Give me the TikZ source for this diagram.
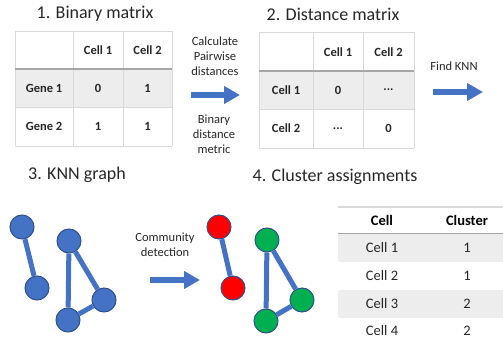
\documentclass[tikz,border=0pt]{standalone}
\usepackage{fontspec}
\setmainfont{Carlito}
\usetikzlibrary{arrows.meta}
\definecolor{bl}{HTML}{4472C4}
\definecolor{bldk}{HTML}{2F528F}
\definecolor{gr}{HTML}{00B050}
\definecolor{rowgray}{HTML}{EDEDED}
\definecolor{gridgray}{HTML}{D9D9D9}
\definecolor{hline}{HTML}{A6A6A6}
\tikzset{
  title/.style={font=\fontsize{18}{22}\selectfont, text=black!85},
  lbl/.style={font=\fontsize{12.5}{15}\selectfont, align=center, text=black!85},
  tb/.style={font=\fontsize{12.5}{14}\selectfont\bfseries, text=black!85},
  tc/.style={font=\fontsize{14.5}{17}\selectfont, text=black!85},
  tcb/.style={font=\fontsize{14.5}{17}\selectfont\bfseries, text=black},
  gridline/.style={draw=gridgray, line width=0.8pt},
  headline/.style={draw=hline, line width=2.5pt},
  bigarrow/.style={draw=bl, line width=6pt, -{Triangle[length=16pt,width=17pt]}},
  vtx/.style={circle, minimum size=24pt, inner sep=0pt, draw=bldk, line width=1pt},
  edge/.style={draw=bl, line width=5pt},
}
\begin{document}
\begin{tikzpicture}[x=1pt,y=-1pt]
\useasboundingbox (0,0) rectangle (503,344);
% ---------- 1. Binary matrix ----------
\node[title] (t1) at (95,14) {1. Binary matrix};
\fill[rowgray] (15,69) rectangle (172,107);
\draw[gridline] (15,31) -- (172,31) (15,107) -- (172,107) (15,146) -- (172,146);
\draw[gridline] (15,31) -- (15,146) (73,31) -- (73,146) (123,31) -- (123,146) (172,31) -- (172,146);
\draw[headline] (15,69) -- (172,69);
\node[tb] (b01) at (98,50) {Cell 1};
\node[tb] (b02) at (147.5,50) {Cell 2};
\node[tb] (b10) at (44,88) {Gene 1};
\node[tb] (b11) at (98,88) {0};
\node[tb] (b12) at (147.5,88) {1};
\node[tb] (b20) at (44,126.5) {Gene 2};
\node[tb] (b21) at (98,126.5) {1};
\node[tb] (b22) at (147.5,126.5) {1};
% arrow 1
\node[lbl] (l1) at (215,56) {Calculate\\Pairwise\\distances};
\node[lbl] (l2) at (214,134) {Binary\\distance\\metric};
\coordinate (a1s) at (191,95);
\coordinate (a1e) at (240,95);
\draw[bigarrow] (a1s) -- (a1e);
% ---------- 2. Distance matrix ----------
\node[title] (t2) at (333,14) {2. Distance matrix};
\fill[rowgray] (259,71) rectangle (414,109);
\draw[gridline] (259,32) -- (414,32) (259,109) -- (414,109) (259,148) -- (414,148);
\draw[gridline] (259,32) -- (259,148) (313,32) -- (313,148) (363,32) -- (363,148) (414,32) -- (414,148);
\draw[headline] (259,71) -- (414,71);
\node[tb] (d01) at (338,52) {Cell 1};
\node[tb] (d02) at (388.5,52) {Cell 2};
\node[tb] (d10) at (286,90) {Cell 1};
\node[tb] (d11) at (338,90) {0};
\node[tb] (d12) at (388.5,90) {...};
\node[tb] (d20) at (286,128.5) {Cell 2};
\node[tb] (d21) at (338,128.5) {...};
\node[tb] (d22) at (388.5,128.5) {0};
% arrow 2
\node[lbl] (l3) at (454,66) {Find KNN};
\coordinate (a2s) at (433,92);
\coordinate (a2e) at (483,92);
\draw[bigarrow] (a2s) -- (a2e);
% ---------- 3. KNN graph ----------
\node[title] (t3) at (77,175) {3. KNN graph};
\node[vtx, fill=bl] (A) at (22,227) {};
\node[vtx, fill=bl] (B) at (37,288) {};
\node[vtx, fill=bl] (C) at (69,241) {};
\node[vtx, fill=bl] (D) at (104,300) {};
\node[vtx, fill=bl] (E) at (68,320) {};
\draw[edge] (A) -- (B);
\draw[edge] (C) -- (E);
\draw[edge] (C) -- (D);
\draw[edge] (E) -- (D);
\node[lbl] (l4) at (165,245) {Community\\detection};
\coordinate (a3s) at (150,280);
\coordinate (a3e) at (200,280);
\draw[bigarrow] (a3s) -- (a3e);
% ---------- 4. Cluster assignments ----------
\node[title] (t4) at (335,177) {4. Cluster assignments};
\node[vtx, fill=red] (R1) at (219,227) {};
\node[vtx, fill=red] (R2) at (233,288) {};
\node[vtx, fill=gr] (G1) at (267,240) {};
\node[vtx, fill=gr] (G2) at (302,300) {};
\node[vtx, fill=gr] (G3) at (266,321) {};
\draw[edge] (R1) -- (R2);
\draw[edge] (G1) -- (G3);
\draw[edge] (G1) -- (G2);
\draw[edge] (G3) -- (G2);
% table
\fill[rowgray] (338,234) rectangle (503,262);
\fill[rowgray] (338,290) rectangle (503,318);
\draw[draw=gridgray, line width=1.5pt] (338,207) -- (503,207);
\draw[draw=hline, line width=1.2pt] (338,233.5) -- (503,233.5);
\node[tcb] (c00) at (382,220) {Cell};
\node[tcb] (c01) at (467,220) {Cluster};
\node[tc] (c10) at (382,248) {Cell 1};
\node[tc] (c11) at (467,248) {1};
\node[tc] (c20) at (382,276) {Cell 2};
\node[tc] (c21) at (467,276) {1};
\node[tc] (c30) at (382,304) {Cell 3};
\node[tc] (c31) at (467,304) {2};
\node[tc] (c40) at (382,331) {Cell 4};
\node[tc] (c41) at (467,331) {2};
\end{tikzpicture}
\end{document}
